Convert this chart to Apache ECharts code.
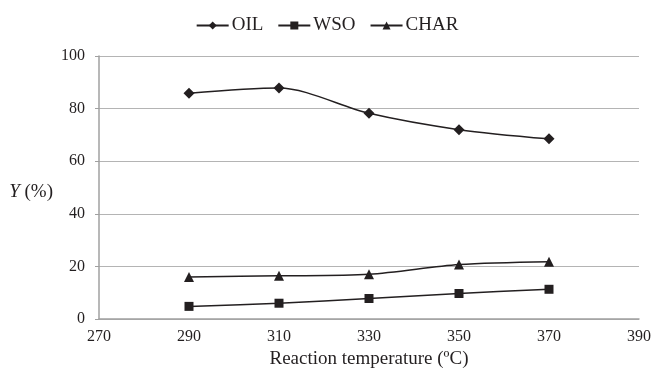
<!DOCTYPE html>
<html><head><meta charset="utf-8">
<script src="https://cdn.jsdelivr.net/npm/echarts@6/dist/echarts.min.js"></script>
<style>html,body{margin:0;padding:0;background:#fff}#c{width:654px;height:374px}</style>
</head><body><div id="c"></div>
<script>
const temps = [290, 310, 330, 350, 370];
const oil = [85.8, 87.8, 78.2, 72.0, 68.5];
const wso = [4.8, 6.0, 7.8, 9.7, 11.3];
const charY = [16.0, 16.4, 17.0, 20.7, 21.8];
const seriesNames = ['OIL', 'WSO', 'CHAR'];

const ink = '#231f20';
const font = 'Liberation Serif';
function pairs(v){ return temps.map((t,i)=>[t, v[i]]); }
const chart = echarts.init(document.getElementById('c'));
chart.setOption({
  animation: false,
  textStyle: {fontFamily: font, color: ink},
  legend: {
    top: 11, left: 'center', itemGap: 14, itemWidth: 32, itemHeight: 10,
    textStyle: {fontFamily: font, fontSize: 19, color: ink, padding: [0, 0, 0, -2]},
    data: seriesNames
  },
  grid: {left: 99, right: 15, top: 56, bottom: 51},
  xAxis: {
    type: 'value', min: 270, max: 390, interval: 20,
    name: 'Reaction temperature (\u00BAC)', nameLocation: 'middle', nameGap: 31,
    nameTextStyle: {fontFamily: font, fontSize: 19, color: ink},
    axisLine: {lineStyle: {color: '#a0a0a0', width: 1.5}},
    axisTick: {show: false},
    axisLabel: {fontFamily: font, fontSize: 16, color: ink, margin: 10},
    splitLine: {show: false}
  },
  yAxis: {
    type: 'value', min: 0, max: 100, interval: 20,
    name: '{i|Y} (%)', nameLocation: 'middle', nameRotate: 0, nameGap: 46,
    nameTextStyle: {fontFamily: font, fontSize: 19, color: ink, align: 'right', padding: [9, 0, 0, 0],
      rich: {i: {fontFamily: font, fontStyle: 'italic', fontSize: 19, color: ink}}},
    axisLine: {show: true, lineStyle: {color: '#a0a0a0', width: 1.5}},
    axisTick: {show: true, length: 4, lineStyle: {color: '#a0a0a0'}},
    axisLabel: {fontFamily: font, fontSize: 16, color: ink, margin: 14},
    splitLine: {show: true, lineStyle: {color: '#b4b4b4', width: 1.2}}
  },
  series: [
    {name: 'OIL', type: 'line', data: pairs(oil), smooth: 0.3, symbol: 'diamond', symbolSize: 11,
     lineStyle: {color: ink, width: 1.5}, itemStyle: {color: ink}},
    {name: 'WSO', type: 'line', data: pairs(wso), smooth: 0.3, symbol: 'rect', symbolSize: 9,
     lineStyle: {color: ink, width: 1.5}, itemStyle: {color: ink}},
    {name: 'CHAR', type: 'line', data: pairs(charY), smooth: 0.3, symbol: 'triangle', symbolSize: 10,
     lineStyle: {color: ink, width: 1.5}, itemStyle: {color: ink}}
  ]
});
</script></body></html>
